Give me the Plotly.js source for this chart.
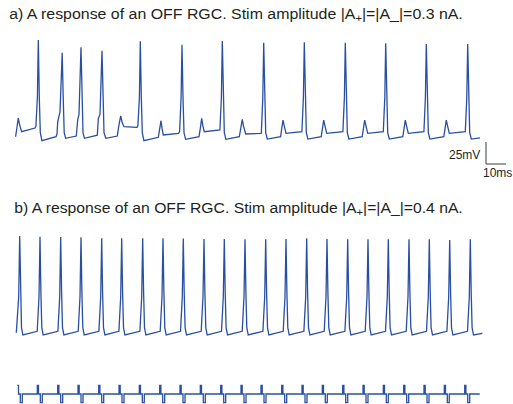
<!DOCTYPE html>
<html>
<head>
<meta charset="utf-8">
<script src="https://cdn.plot.ly/plotly-3.0.1.min.js"></script>
<style>html,body{margin:0;padding:0;background:#fff;}#chart{width:513px;height:404px;}</style>
</head>
<body>
<div id="chart"></div>
<script>
// Panel a: membrane potential (time in ms, voltage in mV), stim 0.3 nA
const timeA = [0.3,1.0,1.65,2.2,3.3,10.0,
  10.45,11.2,11.65,12.15,12.65,13.45,
  20.5,21.0,21.35,22.5,23.6,24.1,24.6,25.3,
  30.65,31.35,32.0,33.0,33.5,34.0,34.7,
  41.15,41.65,42.5,43.5,44.0,44.5,45.4,
  51.15,51.85,52.85,53.5,54.5,61.0,
  61.45,62.2,62.65,63.15,63.65,64.45,
  71.65,72.25,73.0,73.5,74.15,81.8,
  82.3,83.05,83.5,84.0,84.5,85.3,
  92.0,92.6,93.35,93.9,94.65,102.45,
  103.2,103.65,104.15,104.65,105.45,
  112.15,112.9,113.65,114.2,115.35,123.15,
  123.9,124.35,124.85,125.35,126.15,
  132.8,133.4,134.0,134.6,135.5,143.45,
  144.2,144.65,145.15,145.65,146.45,
  153.1,153.75,154.35,154.95,155.85,163.95,
  164.7,165.15,165.65,166.15,166.95,
  173.6,174.25,174.85,175.45,176.35,184.15,
  184.9,185.35,185.85,186.35,187.15,
  193.9,194.55,195.15,195.75,196.65,204.45,
  205.2,205.65,206.15,206.65,207.45,
  214.4,215.05,215.65,216.25,217.15,225.15,
  225.9,226.35,226.85,227.35,228.15,
  232.5];
const voltA = [-64.7,-52.0,-43.4,-50.0,-59.0,-54.8,
  -52.8,-20,45.2,-20,-60,-69.2,
  -64.7,-62,-47.9,-36.6,30.8,-20,-60,-66.5,
  -63.9,-45.5,-39,36.9,-20,-60,-66.5,
  -63,-44,-39,33.1,-20,-60,-66.5,
  -63.9,-53,-41.1,-48,-53.3,-54,
  -52,-20,43.8,-20,-60,-69.2,
  -65.3,-57,-46.5,-55,-62.7,-60.8,
  -58.8,-20,39.9,-20,-60,-67.6,
  -64.7,-56,-43.8,-52,-59,-57,
  -20,44.1,-20,-60,-67.6,
  -64.7,-55,-44.9,-52,-61.6,-60.8,
  -20,42.2,-20,-60,-67.3,
  -64.7,-55,-45.7,-52,-60.8,-59,
  -20,42.6,-20,-60,-67.3,
  -64.7,-55,-45.7,-52,-60.8,-59,
  -20,42.2,-20,-60,-67.3,
  -64.7,-55,-45.7,-52,-60.8,-59,
  -20,41.5,-20,-60,-67.3,
  -64.7,-55,-45.7,-52,-60.8,-59,
  -20,40.7,-20,-60,-67.3,
  -64.7,-55,-45.7,-52,-60.8,-59,
  -20,40.7,-20,-60,-67.3,
  -65.9];

// Panel b: membrane potential, stim 0.4 nA
const timeB = [0.65,1.85,2.35,2.8,3.25,3.95,
  11.1,12.0,12.5,12.95,13.4,14.1,
  21.45,22.35,22.85,23.3,23.75,24.45,
  31.6,32.5,33.0,33.45,33.9,34.6,
  41.95,42.85,43.35,43.8,44.25,44.95,
  51.95,52.85,53.35,53.8,54.25,54.95,
  62.45,63.35,63.85,64.3,64.75,65.45,
  72.6,73.5,74.0,74.45,74.9,75.6,
  82.75,83.65,84.15,84.6,85.05,85.75,
  93.1,94.0,94.5,94.95,95.4,96.1,
  103.25,104.15,104.65,105.1,105.55,106.25,
  113.6,114.5,115.0,115.45,115.9,116.6,
  123.95,124.85,125.35,125.8,126.25,126.95,
  134.1,135.0,135.5,135.95,136.4,137.1,
  144.45,145.35,145.85,146.3,146.75,147.45,
  154.6,155.5,156.0,156.45,156.9,157.6,
  164.95,165.85,166.35,166.8,167.25,167.95,
  175.1,176.0,176.5,176.95,177.4,178.1,
  185.25,186.15,186.65,187.1,187.55,188.25,
  195.6,196.5,197.0,197.45,197.9,198.6,
  205.75,206.65,207.15,207.6,208.05,208.75,
  215.95,216.85,217.35,217.8,218.25,218.95,
  226.25,227.15,227.65,228.1,228.55,229.25,
  233.65];
const voltB = [-65.8,-25,44.1,-20,-60,-68.4,
  -64.2,-25,43.3,-20,-60,-68.4,
  -64.2,-25,43.0,-20,-60,-68.4,
  -64.2,-25,42.6,-20,-60,-68.4,
  -64.2,-25,41.5,-20,-60,-68.4,
  -64.2,-25,41.5,-20,-60,-68.4,
  -64.2,-25,41.5,-20,-60,-68.4,
  -64.2,-25,41.5,-20,-60,-68.4,
  -64.2,-25,41.1,-20,-60,-68.4,
  -64.2,-25,40.7,-20,-60,-68.4,
  -64.2,-25,40.7,-20,-60,-68.4,
  -64.2,-25,40.3,-20,-60,-68.4,
  -64.2,-25,40.3,-20,-60,-68.4,
  -64.2,-25,40.7,-20,-60,-68.4,
  -64.2,-25,41.5,-20,-60,-68.4,
  -64.2,-25,40.7,-20,-60,-68.4,
  -64.2,-25,40.3,-20,-60,-68.4,
  -64.2,-25,40.3,-20,-60,-68.4,
  -64.2,-25,40.3,-20,-60,-68.4,
  -64.2,-25,40.3,-20,-60,-68.4,
  -64.2,-25,40.3,-20,-60,-68.4,
  -64.2,-25,39.5,-20,-60,-68.4,
  -64.2,-25,40.3,-20,-60,-68.4,
  -66.5];

// Stimulus: biphasic current pulses (nA), step-drawn
const stimTime = [1.15,1.75,2.65,3.65, 11.15,11.75,12.65,13.65, 21.35,21.95,22.85,23.85,
  31.5,32.1,33.0,34.0, 41.85,42.45,43.35,44.35, 52.0,52.6,53.5,54.5,
  62.15,62.75,63.65,64.65, 72.35,72.95,73.85,74.85, 82.5,83.1,84.0,85.0,
  92.65,93.25,94.15,95.15, 102.85,103.45,104.35,105.35, 113.0,113.6,114.5,115.5,
  123.0,123.6,124.5,125.5, 133.35,133.95,134.85,135.85, 143.5,144.1,145.0,146.0,
  153.65,154.25,155.15,156.15, 163.85,164.45,165.35,166.35, 174.0,174.6,175.5,176.5,
  184.15,184.75,185.65,186.65, 194.35,194.95,195.85,196.85, 204.5,205.1,206.0,207.0,
  214.65,215.25,216.15,217.15, 224.85,225.45,226.35,227.35, 232.35];
const stimAmp = [0.4,0,-0.4,0, 0.4,0,-0.4,0, 0.4,0,-0.4,0,
  0.4,0,-0.4,0, 0.4,0,-0.4,0, 0.4,0,-0.4,0,
  0.4,0,-0.4,0, 0.4,0,-0.4,0, 0.4,0,-0.4,0,
  0.4,0,-0.4,0, 0.4,0,-0.4,0, 0.4,0,-0.4,0,
  0.4,0,-0.4,0, 0.4,0,-0.4,0, 0.4,0,-0.4,0,
  0.4,0,-0.4,0, 0.4,0,-0.4,0, 0.4,0,-0.4,0,
  0.4,0,-0.4,0, 0.4,0,-0.4,0, 0.4,0,-0.4,0,
  0.4,0,-0.4,0, 0.4,0,-0.4,0, 0];

// Scale bar (panel a units)
const scaleT = [235.5, 235.5, 245.5];
const scaleV = [-70.7, -95.7, -95.7];
const scaleLabels = ["25mV", "10ms"];

const titleA = "a) A response of an OFF RGC. Stim amplitude |A<sub>+</sub>|=|A_|=0.3 nA.";
const titleB = "b) A response of an OFF RGC. Stim amplitude |A<sub>+</sub>|=|A_|=0.4 nA.";

const blue = "rgb(41,79,163)";
const H = 404;
const dom = (top, bottom) => [1 - bottom / H, 1 - top / H];
const xr = [-7.5, 249];

const traces = [
  {x: timeA, y: voltA, xaxis: "x", yaxis: "y", mode: "lines", line: {color: blue, width: 1.3}, hoverinfo: "skip"},
  {x: scaleT, y: scaleV, xaxis: "x", yaxis: "y", mode: "lines", line: {color: "#3a3a3a", width: 1}, hoverinfo: "skip"},
  {x: timeB, y: voltB, xaxis: "x2", yaxis: "y2", mode: "lines", line: {color: blue, width: 1.3}, hoverinfo: "skip"},
  {x: stimTime, y: stimAmp, xaxis: "x3", yaxis: "y3", mode: "lines", line: {color: blue, width: 1.3, shape: "hv"}, hoverinfo: "skip"}
];

const hidden = {visible: false, showgrid: false, zeroline: false, fixedrange: true};
const font = {family: "Liberation Sans, Arial, sans-serif", size: 15, color: "#231f20"};
const smallFont = {family: "Liberation Sans, Arial, sans-serif", size: 12, color: "#231f20"};

const layout = {
  width: 513, height: 404,
  margin: {l: 0, r: 0, t: 0, b: 0},
  paper_bgcolor: "#fff", plot_bgcolor: "#fff",
  showlegend: false,
  xaxis: Object.assign({range: xr, domain: [0, 1], anchor: "y"}, hidden),
  yaxis: Object.assign({range: [-102.5, 56.6], domain: dom(30, 170), anchor: "x"}, hidden),
  xaxis2: Object.assign({range: xr, domain: [0, 1], anchor: "y2"}, hidden),
  yaxis2: Object.assign({range: [-85.5, 56.6], domain: dom(225, 350), anchor: "x2"}, hidden),
  xaxis3: Object.assign({range: xr, domain: [0, 1], anchor: "y3"}, hidden),
  yaxis3: Object.assign({range: [-0.46, 0.736], domain: dom(378, 404), anchor: "x3"}, hidden),
  annotations: [
    {text: titleA, xref: "paper", yref: "paper", x: 7 / 513, y: 1 - 14 / H, xanchor: "left", yanchor: "middle", showarrow: false, font: font},
    {text: titleB, xref: "paper", yref: "paper", x: 12 / 513, y: 1 - 208 / H, xanchor: "left", yanchor: "middle", showarrow: false, font: font},
    {text: scaleLabels[0], xref: "paper", yref: "paper", x: 482 / 513, y: 1 - 155 / H, xanchor: "right", yanchor: "middle", showarrow: false, font: smallFont},
    {text: scaleLabels[1], xref: "paper", yref: "paper", x: 481 / 513, y: 1 - 173 / H, xanchor: "left", yanchor: "middle", showarrow: false, font: smallFont}
  ]
};

// The reference typesetting is horizontally wider than Arial at this height;
// widen the two panel titles so they span the same extent as in the reference.
const titleRightEdge = 463;

Plotly.newPlot("chart", traces, layout, {staticPlot: true, displayModeBar: false}).then(function (gd) {
  gd.querySelectorAll(".annotation-text").forEach(function (t) {
    const fs = window.getComputedStyle(t).fontSize;
    if (fs) t.setAttribute("font-size", parseFloat(fs));
    const s = t.textContent || "";
    if (s.indexOf("response") < 0) return;
    const bb = t.getBBox();
    const ctm = t.getScreenCTM();
    const svgRect = gd.querySelector(".main-svg").getBoundingClientRect();
    const leftPx = bb.x + (ctm ? ctm.e - svgRect.left : 0);
    const k = (titleRightEdge - leftPx) / bb.width;
    t.setAttribute("transform", "translate(" + bb.x + ",0) scale(" + k + ",1) translate(" + (-bb.x) + ",0)");
  });
});
</script>
</body>
</html>
